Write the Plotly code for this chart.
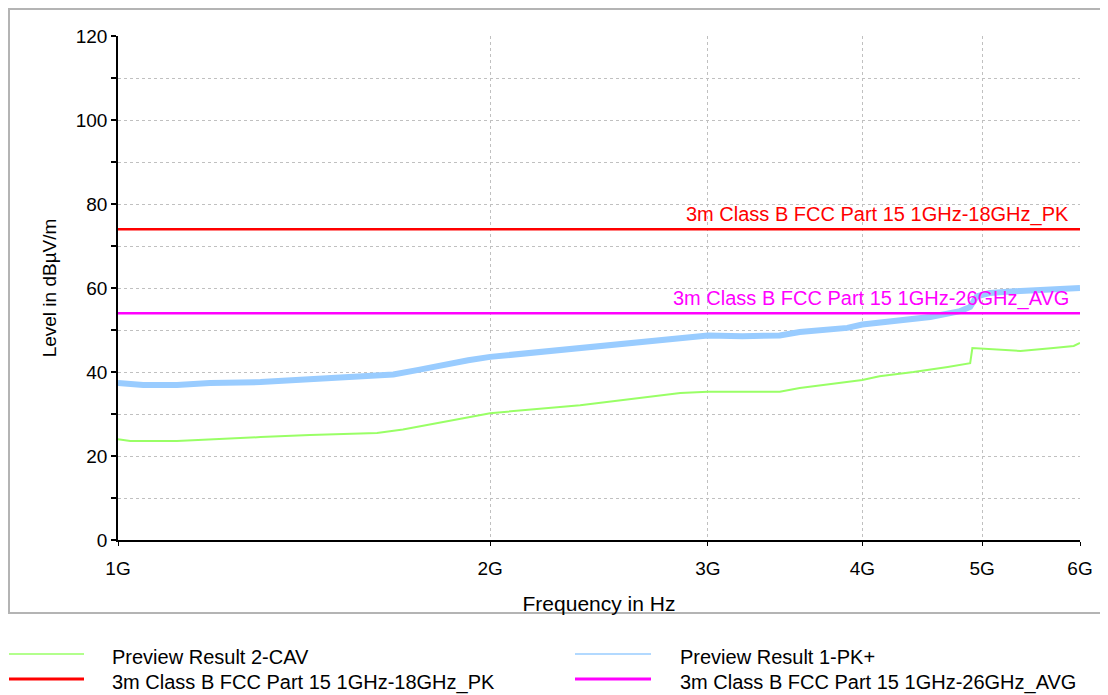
import plotly.graph_objects as go

# ---- data ----
pk_freq_ghz = [1.000, 1.048, 1.116, 1.187, 1.304, 1.430, 1.55, 1.67, 1.75, 1.83, 1.92, 2.00,
               2.20, 2.365, 2.60, 2.85, 3.00, 3.20, 3.43, 3.56, 3.89, 4.00, 4.13, 4.54,
               4.80, 4.89, 4.95, 5.07, 5.37, 5.71, 6.00]
pk_level = [37.4, 36.9, 36.9, 37.4, 37.6, 38.3, 38.7, 39.4, 40.5, 41.7, 42.8, 43.6,
            44.8, 45.7, 47.0, 48.1, 48.7, 48.5, 48.7, 49.5, 50.5, 51.3, 51.7, 53.1,
            54.5, 55.5, 58.0, 58.8, 59.3, 59.5, 60.0]

cav_freq_ghz = [1.000, 1.023, 1.116, 1.187, 1.304, 1.430, 1.62, 1.70, 1.78, 1.90, 2.00,
                2.365, 2.85, 3.00, 3.43, 3.56, 3.89, 4.00, 4.13, 4.40, 4.69, 4.89,
                4.91, 5.07, 5.37, 5.71, 5.93, 6.00]
cav_level = [24.0, 23.6, 23.6, 24.0, 24.5, 25.0, 25.5, 26.3, 27.4, 29.0, 30.2,
             32.1, 35.0, 35.3, 35.3, 36.2, 37.7, 38.1, 39.0, 40.0, 41.2, 42.1,
             45.7, 45.5, 45.0, 45.7, 46.2, 46.9]

limit_freq_ghz = [1.0, 6.0]
limit_pk = [74, 74]
limit_avg = [54, 54]

x_tick_vals_ghz = [1, 2, 3, 4, 5, 6]
x_tick_text = ["1G", "2G", "3G", "4G", "5G", "6G"]
y_tick_vals = [0, 10, 20, 30, 40, 50, 60, 70, 80, 90, 100, 110, 120]
y_tick_text = ["0", "", "20", "", "40", "", "60", "", "80", "", "100", "", "120"]

name_cav = "Preview Result 2-CAV"
name_pk = "Preview Result 1-PK+"
name_lim_pk = "3m Class B FCC Part 15 1GHz-18GHz_PK"
name_lim_avg = "3m Class B FCC Part 15 1GHz-26GHz_AVG"

C_GREEN = "#99ff66"
C_BLUE = "#99ccff"
C_RED = "#ff0000"
C_MAG = "#ff00ff"

FONT = "Liberation Sans, Arial, sans-serif"
FS = 19
FS_TXT = 20

def hz(v):
    return [f * 1e9 for f in v]

fig = go.Figure()
fig.add_trace(go.Scatter(x=hz(pk_freq_ghz), y=pk_level, mode="lines", name=name_pk,
                         line=dict(color=C_BLUE, width=6), showlegend=False))
fig.add_trace(go.Scatter(x=hz(cav_freq_ghz), y=cav_level, mode="lines", name=name_cav,
                         line=dict(color=C_GREEN, width=2), showlegend=False))
fig.add_trace(go.Scatter(x=hz(limit_freq_ghz), y=limit_pk, mode="lines", name=name_lim_pk,
                         line=dict(color=C_RED, width=2.5), showlegend=False))
fig.add_trace(go.Scatter(x=hz(limit_freq_ghz), y=limit_avg, mode="lines", name=name_lim_avg,
                         line=dict(color=C_MAG, width=2.5), showlegend=False))

# page is shown with an 8px body margin: figure coords = reference coords - 8
OFF = 8
W, H = 1100, 687
L, R, T, B = 110, 28, 28, 155
PW, PH = W - L - R, H - T - B

def px_x(p):  # p in reference-page pixels
    return (p - OFF - L) / PW

def px_y(p):
    return (H - B - (p - OFF)) / PH

# limit line labels
fig.add_annotation(x=px_x(1071), xref="paper", y=limit_pk[0], yref="y", text=name_lim_pk,
                   showarrow=False, xanchor="right", yanchor="bottom", yshift=1,
                   font=dict(family=FONT, size=FS_TXT, color=C_RED))
fig.add_annotation(x=px_x(1071), xref="paper", y=limit_avg[0], yref="y", text=name_lim_avg,
                   showarrow=False, xanchor="right", yanchor="bottom", yshift=1,
                   font=dict(family=FONT, size=FS_TXT, color=C_MAG))

# outer frame
fig.add_shape(type="rect", xref="paper", yref="paper",
              x0=px_x(9), x1=px_x(1140), y0=px_y(613), y1=px_y(9),
              line=dict(color="#b4b4b4", width=2), layer="below")

# legend (manual, two columns)
legend_items = [
    (name_cav, C_GREEN, 1.5, 8, 84, 110, 657),
    (name_pk, C_BLUE, 1.5, 575, 651, 678, 657),
    (name_lim_pk, C_RED, 3, 8, 84, 110, 682),
    (name_lim_avg, C_MAG, 3, 575, 651, 678, 682),
]
for text, col, w, xa, xb, xt, yy in legend_items:
    fig.add_shape(type="line", xref="paper", yref="paper",
                  x0=px_x(max(xa, 9)), x1=px_x(xb), y0=px_y(yy - 3), y1=px_y(yy - 3),
                  line=dict(color=col, width=w))
    fig.add_annotation(x=px_x(xt), xref="paper", y=px_y(yy), yref="paper", text=text,
                       showarrow=False, xanchor="left", yanchor="middle",
                       font=dict(family=FONT, size=FS_TXT, color="black"))

fig.update_layout(
    width=W, height=H,
    margin=dict(l=L, r=R, t=T, b=B, autoexpand=False),
    paper_bgcolor="white", plot_bgcolor="white",
    font=dict(family=FONT, size=FS, color="black"),
    showlegend=False,
)
fig.update_xaxes(
    type="log", range=[9, 9 + 0.7781513], tickvals=hz(x_tick_vals_ghz), ticktext=x_tick_text,
    showline=True, linecolor="black", linewidth=1.5, ticks="outside", ticklen=4,
    tickcolor="black", tickwidth=1, ticklabelstandoff=6,
    showgrid=True, gridcolor="#c0c0c0", griddash="dot", gridwidth=1, zeroline=False,
    title=dict(text="Frequency in Hz", standoff=19, font=dict(size=21)),
    automargin=False,
)
fig.update_yaxes(
    range=[0, 120], tickvals=y_tick_vals, ticktext=y_tick_text,
    showline=True, linecolor="black", linewidth=1.5, ticks="outside", ticklen=5,
    tickcolor="black", tickwidth=1.5, ticklabelstandoff=0,
    showgrid=True, gridcolor="#c0c0c0", griddash="dot", gridwidth=1, zeroline=False,
    title=dict(text="Level in dBµV/m", standoff=14, font=dict(size=FS)),
    automargin=False,
)

fig.write_html("out.html")
